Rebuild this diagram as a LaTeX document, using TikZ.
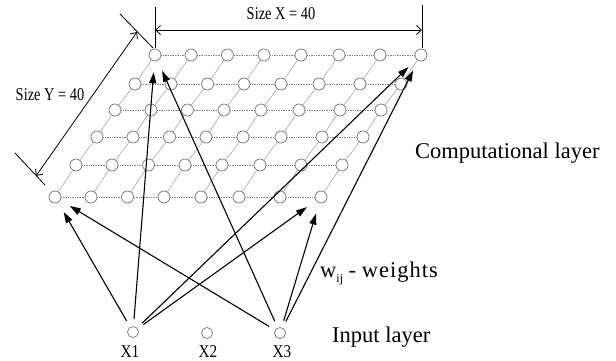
\documentclass[tikz,border=0pt]{standalone}
\usepackage{fontspec}
\setmainfont{Liberation Serif}
\usetikzlibrary{arrows.meta}
\begin{document}
\begin{tikzpicture}[x=1pt,y=-1pt,
  gnode/.style={circle,draw=black!55,fill=white,line width=0.7pt,minimum size=12pt,inner sep=0pt},
  inode/.style={circle,draw=black!55,fill=white,line width=0.7pt,minimum size=11pt,inner sep=0pt},
  hline/.style={draw=black!50,densely dotted,line width=0.7pt},
  dline/.style={draw=black!35,line width=0.6pt},
  conn/.style={draw=black,line width=1.1pt,-{Triangle[length=11pt,width=7pt]},shorten <=7pt,shorten >=11pt},
  dim/.style={draw=black,line width=0.8pt,{Straight Barb[length=5pt,width=9pt]}-{Straight Barb[length=5pt,width=9pt]}},
  ext/.style={draw=black,line width=0.8pt},
  lbl/.style={inner sep=0pt,font=\fontsize{22.5}{24}\selectfont},
  small/.style={inner sep=0pt,font=\fontsize{18}{20}\selectfont}
]
\useasboundingbox[fill=white] (0,0) rectangle (616,361);

% grid nodes
\foreach \r/\sx/\sy in {0/155/55,1/135/84,2/115/110,3/97/137,4/76/165,5/55/197}{
  \foreach \c/\o in {0/0,1/36,2/72.5,3/109,4/146,5/184,6/225,7/266}{
    \node[gnode] (g-\r-\c) at (\sx+\o,\sy) {};
  }
}
% horizontal links
\foreach \r in {0,...,5}{
  \foreach \c [evaluate=\c as \n using int(\c+1)] in {0,...,6}{
    \draw[hline] (g-\r-\c) -- (g-\r-\n);
  }
}
% diagonal links
\foreach \r [evaluate=\r as \p using int(\r-1)] in {1,...,5}{
  \foreach \c in {0,...,7}{
    \draw[dline] (g-\r-\c) -- (g-\p-\c);
  }
}

% input nodes
\node[inode] (x1) at (133,332) {};
\node[inode] (x2) at (207,333) {};
\node[inode] (x3) at (280,333) {};
\node[small,anchor=base] (x1l) at (130,357.5) {\scalebox{0.85}[1]{X1}};
\node[small,anchor=base] (x2l) at (208,357.5) {\scalebox{0.85}[1]{X2}};
\node[small,anchor=base] (x3l) at (282,357.5) {\scalebox{0.85}[1]{X3}};

% connections
\draw[conn] (x1) -- (g-5-0);
\draw[conn] (x1) -- (g-0-0);
\draw[conn] (x1) -- (g-0-7);
\draw[conn] (x1) -- (g-5-7);
\draw[conn] (x3) -- (g-5-0);
\draw[conn] (x3) -- (g-0-0);
\draw[conn] (x3) -- (g-5-7);
\draw[conn] (x3) -- (g-0-7);

% dimension X
\coordinate (ax1) at (155,7);
\coordinate (ax2) at (155,48);
\coordinate (bx1) at (422,5);
\coordinate (bx2) at (422,48);
\coordinate (dx1) at (155,30);
\coordinate (dx2) at (422,30);
\draw[ext] (ax1) -- (ax2);
\draw[ext] (bx1) -- (bx2);
\draw[dim] (dx1) -- (dx2);
\node[small,anchor=base] (sx) at (281,20) {\scalebox{0.8}[1]{Size X = 40}};

% dimension Y
\coordinate (ay1) at (120,14);
\coordinate (ay2) at (153,48);
\coordinate (by1) at (15,153);
\coordinate (by2) at (45,185);
\coordinate (dy1) at (137,32);
\coordinate (dy2) at (36,176);
\draw[ext] (ay1) -- (ay2);
\draw[ext] (by1) -- (by2);
\draw[dim] (dy1) -- (dy2);
\node[small,anchor=base] (sy) at (50,100) {\scalebox{0.8}[1]{Size Y = 40}};

% labels
\node[lbl,anchor=base west] (comp) at (415,158) {Computational layer};
\node[lbl,anchor=base west] (inp) at (332,342) {Input layer};
\node[lbl,anchor=base west] (wts) at (320,277) {w\raisebox{-5pt}{\fontsize{12}{12}\selectfont ij} - w\kern1pt e\kern1pt i\kern1pt g\kern1pt h\kern1pt t\kern1pt s};
\end{tikzpicture}
\end{document}
